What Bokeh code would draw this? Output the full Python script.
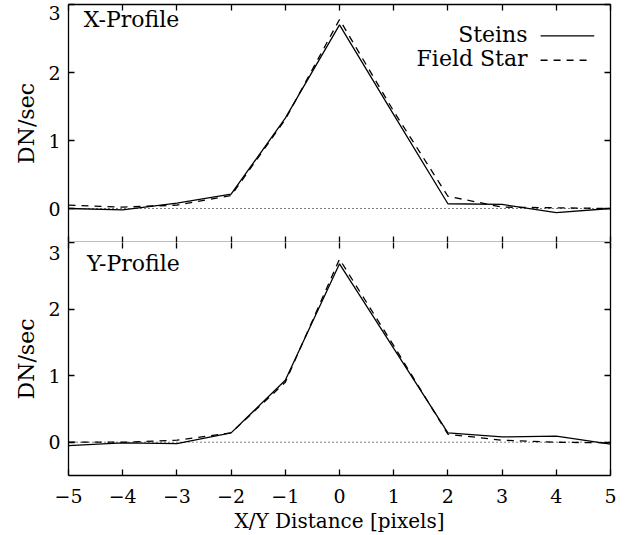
from bokeh.plotting import figure
from bokeh.layouts import column
from bokeh.models import Range1d, LinearAxis, FixedTicker, Span, Label, CustomJSTickFormatter
from bokeh.embed import file_html
from bokeh.resources import INLINE

# ---------------- data ----------------
pixels = [-5, -4, -3, -2, -1, 0, 1, 2, 3, 4, 5]
x_profile_steins = [0.00, -0.02, 0.08, 0.21, 1.33, 2.70, 1.38, 0.07, 0.06, -0.06, 0.00]
x_profile_field = [0.05, 0.02, 0.05, 0.19, 1.31, 2.78, 1.43, 0.18, 0.02, 0.01, 0.00]
y_profile_steins = [-0.05, -0.01, -0.02, 0.14, 0.93, 2.68, 1.41, 0.14, 0.08, 0.09, -0.03]
y_profile_field = [0.00, 0.00, 0.03, 0.14, 0.90, 2.75, 1.45, 0.12, 0.03, 0.00, -0.01]

x_ticks = [-5, -4, -3, -2, -1, 0, 1, 2, 3, 4, 5]
x_tick_labels = ["\u22125", "\u22124", "\u22123", "\u22122", "\u22121", "0", "1", "2", "3", "4", "5"]
y_ticks = [0, 1, 2, 3]
y_tick_labels = ["0", "1", "2", "3"]
panel_titles = ["X-Profile", "Y-Profile"]
legend_labels = ["Steins", "Field Star"]
x_label = "X/Y Distance [pixels]"
y_label = "DN/sec"

# ---------------- style ----------------
YMIN, YMAX = -0.5, 3.0
FONT = "DejaVu Serif"
LW = 1.3
TICK_PX = 19
TEXT_PX = 20
DASH = "7 6"
FRAME_H = 238
PX_PER_UNIT = FRAME_H / (YMAX - YMIN)


def blank():
    return CustomJSTickFormatter(code="return ''")


def style_axis(ax):
    ax.major_tick_in = 6
    ax.major_tick_out = 0
    ax.minor_tick_in = 6
    ax.minor_tick_out = 0
    ax.minor_tick_line_color = None
    ax.axis_line_color = "black"
    ax.axis_line_width = LW
    ax.major_tick_line_color = "black"
    ax.major_tick_line_width = LW
    ax.minor_tick_line_width = LW
    ax.major_label_text_font = FONT
    ax.major_label_text_color = "black"
    ax.major_label_text_font_size = f"{TICK_PX}px"
    ax.axis_label_text_font = FONT
    ax.axis_label_text_font_size = f"{TEXT_PX}px"
    ax.axis_label_text_font_style = "normal"
    ax.axis_label_text_color = "black"


def panel(steins, field, top_border, bottom_border, height, is_bottom, top_shift_px):
    p = figure(width=635, height=height, output_backend="svg", toolbar_location=None,
               x_range=Range1d(-5, 5), y_range=Range1d(YMIN, YMAX),
               min_border_left=68, min_border_right=25,
               min_border_top=top_border, min_border_bottom=bottom_border)
    p.grid.visible = False
    p.background_fill_color = "white"
    p.border_fill_color = "white"
    p.outline_line_color = None

    xa = p.below[0]
    ya = p.left[0]

    # left axis: labels, the top label "3" set a little below the panel edge
    shift = top_shift_px / PX_PER_UNIT
    lab_pos = [t if t < YMAX else t - shift for t in y_ticks]
    ya.ticker = FixedTicker(ticks=lab_pos, minor_ticks=y_ticks)
    ya.major_label_overrides = {pos: lab for pos, lab in zip(lab_pos, y_tick_labels)}
    style_axis(ya)
    ya.major_tick_line_color = None
    ya.minor_tick_line_color = "black"
    ya.major_label_standoff = 8
    ya.axis_label = y_label
    ya.axis_label_standoff = 6
    ya.axis_label_text_font_size = "22px"

    # bottom axis
    xa.ticker = FixedTicker(ticks=x_ticks)
    style_axis(xa)
    if is_bottom:
        xa.major_label_overrides = {t: lab for t, lab in zip(x_ticks, x_tick_labels)}
        xa.major_label_standoff = 13
        xa.axis_label = x_label
        xa.axis_label_standoff = 3
    else:
        xa.formatter = blank()
        xa.major_label_standoff = 0

    # right and top axes: ticks only
    right_ax = LinearAxis(ticker=FixedTicker(ticks=y_ticks), formatter=blank())
    style_axis(right_ax)
    right_ax.major_label_standoff = 0
    p.add_layout(right_ax, "right")

    top_ax = LinearAxis(ticker=FixedTicker(ticks=x_ticks), formatter=blank())
    style_axis(top_ax)
    top_ax.major_label_standoff = 0
    if is_bottom:
        top_ax.axis_line_color = None   # the shared edge is drawn by the upper panel
    p.add_layout(top_ax, "above")

    p.add_layout(Span(location=0, dimension="width", line_color="black", line_width=1,
                      line_dash="1 3"))
    p.line(pixels, steins, line_color="black", line_width=LW)
    p.line(pixels, field, line_color="black", line_width=LW, line_dash=DASH)
    return p


top = panel(x_profile_steins, x_profile_field, 4, 0, 4 + FRAME_H, False, 8)
bot = panel(y_profile_steins, y_profile_field, 0, 57, 293, True, 11)

# panel titles
top.add_layout(Label(x=-4.72, y=2.78, text=panel_titles[0], text_font=FONT,
                     text_font_size="22px", text_baseline="middle", text_align="left",
                     text_color="black"))
bot.add_layout(Label(x=-4.66, y=2.68, text=panel_titles[1], text_font=FONT,
                     text_font_size="22px", text_baseline="middle", text_align="left",
                     text_color="black"))

# legend (text then sample line)
top.add_layout(Label(x=3.47, y=2.56, text=legend_labels[0], text_font=FONT,
                     text_font_size="22px", text_align="right", text_baseline="middle",
                     text_color="black"))
top.add_layout(Label(x=3.47, y=2.20, text=legend_labels[1], text_font=FONT,
                     text_font_size="22px", text_align="right", text_baseline="middle",
                     text_color="black"))
top.line([3.71, 4.70], [2.54, 2.54], line_color="black", line_width=LW)
top.line([3.71, 4.63], [2.18, 2.18], line_color="black", line_width=LW, line_dash=DASH)

layout = column(top, bot, spacing=0)
open("out.html", "w").write(file_html(layout, INLINE))
